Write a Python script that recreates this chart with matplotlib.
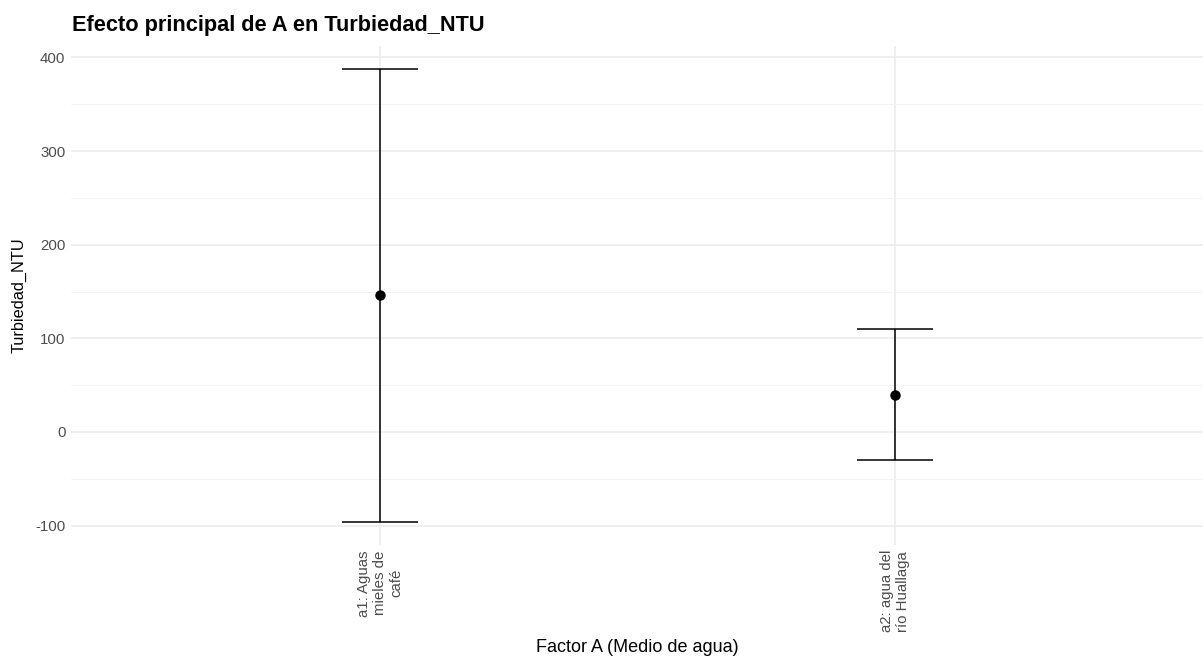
import numpy as np
import matplotlib.pyplot as plt

plt.rcParams['font.family'] = ['Liberation Sans', 'DejaVu Sans']

# data
niveles = ["a1: Aguas\nmieles de\ncafé", "a2: agua del\nrío Huallaga"]
medias = [146, 40]
inferior = [-96, -29.5]
superior = [388, 109.5]

fig = plt.figure(figsize=(12.03, 6.6), dpi=100)
ax = fig.add_axes([71 / 1203, 1 - 544.5 / 660, 1133 / 1203, (544.5 - 46) / 660])

x = np.arange(1, len(niveles) + 1)
medias = np.array(medias)
yerr = [medias - np.array(inferior), np.array(superior) - medias]

ax.errorbar(x, medias, yerr=yerr, fmt='none', ecolor='black', elinewidth=1.1,
            capsize=27.7, capthick=1.1, zorder=3)
ax.plot(x, medias, 'o', color='black', markersize=6.5, zorder=4)

# ggplot-like limits (discrete expand 0.6, continuous 5%)
ax.set_xlim(0.4, 2.6)
rango = max(superior) - min(inferior)
ax.set_ylim(min(inferior) - 0.05 * rango, max(superior) + 0.05 * rango)

ax.set_yticks([-100, 0, 100, 200, 300, 400])
ax.set_yticklabels(['-100', '0', '100', '200', '300', '400'])
ax.set_yticks([-50, 50, 150, 250, 350], minor=True)
ax.set_xticks(x)
ax.set_xticklabels(niveles, rotation=90, ha='center', va='top', multialignment='center')

ax.grid(True, which='major', color='#EBEBEB', linewidth=1.1)
ax.grid(True, which='minor', axis='y', color='#F2F2F2', linewidth=0.6)
ax.set_axisbelow(True)
for s in ax.spines.values():
    s.set_visible(False)
ax.tick_params(which='both', length=0, labelsize=10.8, labelcolor='#4D4D4D', pad=4)

ax.set_xlabel('Factor A (Medio de agua)', fontsize=13, labelpad=5)
ax.set_ylabel('Turbiedad_NTU', fontsize=11.7, labelpad=6)
fig.text(72 / 1203, 1 - 26 / 660, 'Efecto principal de A en Turbiedad_NTU',
         fontsize=15.7, fontweight='bold', va='center', ha='left')

fig.savefig('out.png', dpi=100, facecolor='white')
